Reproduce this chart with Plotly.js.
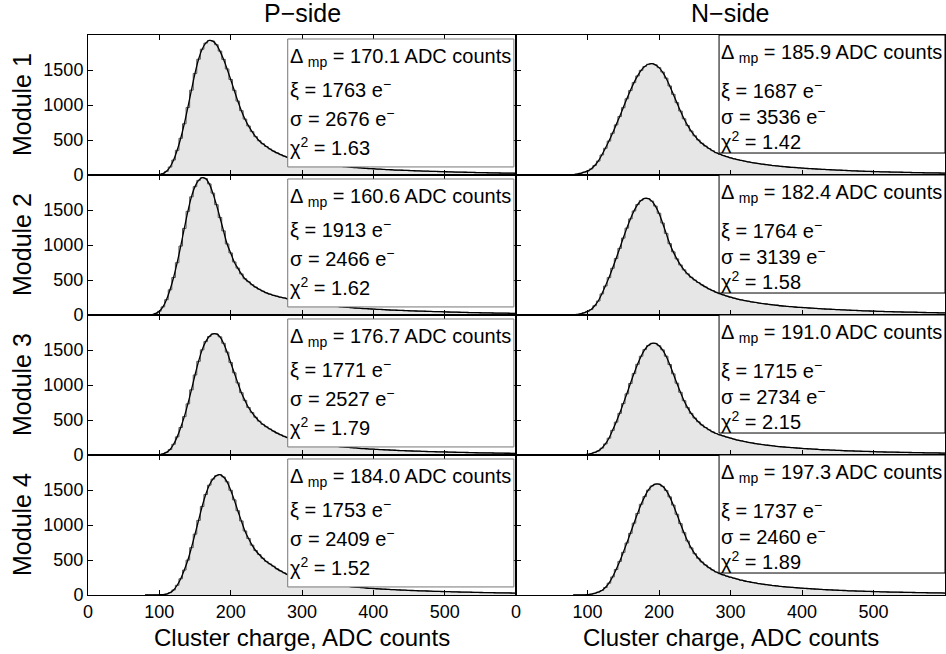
<!DOCTYPE html>
<html>
<head>
<meta charset="utf-8">
<script src="https://cdn.plot.ly/plotly-3.0.1.min.js"></script>
<style>html,body{margin:0;padding:0;background:#fff;}#plot{width:946px;height:654px;}</style>
</head>
<body>
<div id="plot"></div>
<script>
// Bin centres: 80, 85, ..., 600 ADC counts
const binStart = 80, binStep = 5, binEnd = 600;

// P-side cluster-charge histograms (counts per bin), modules 1-4
const pModule1 = [0,0,2,4,6, 21,52,114,214, 353,525,732,965, 1212,1451,1654,1797, 1884,1922,1913,1861, 1770,1652,1515,1365, 1210,1056,919,799, 701,620,548,490, 446,407,372,342, 315,291,270,253, 241,228,214,203, 193,183,176,168, 160,152,147,141, 135,129,124,120, 116,110,106,102, 98,95,91,89, 85,83,79,77, 75,71,69,68, 66,64,62,60, 58,56,55,53, 52,50,48,47, 46,44,42,41, 40,39,38,37, 35,34,33,32, 31,30,29,28, 27,27,26,25];
const pModule2 = [2,4,6,22,53, 116,219,360,536, 747,985,1237,1481, 1688,1834,1923,1962, 1948,1873,1741,1576, 1393,1202,1015,887, 758,670,587,518, 475,433,398,368, 341,317,297,282, 268,254,244,230, 219,207,197,187, 179,171,164,156, 150,144,138,132, 126,122,118,112, 108,104,100,97, 93,91,87,85, 81,79,77,73, 71,69,67,65, 63,61,59,57, 56,54,53,51, 49,48,47,45, 43,42,41,39, 38,37,35,34, 33,32,31,30, 29,28,27,27, 26,25,24,24];
const pModule3 = [0,0,2,3,5, 16,38,78,153, 259,393,548,731, 931,1143,1338,1502, 1620,1693,1731,1730, 1688,1596,1470,1322, 1175,1030,891,780, 679,606,539,484, 438,404,372,341, 313,289,266,247, 233,219,207,197, 186,176,167,160, 153,146,139,134, 129,124,118,113, 108,104,101,96, 92,89,85,84, 80,77,75,73, 70,68,64,63, 61,59,57,56, 54,52,50,49, 47,46,45,44, 42,40,39,38, 37,36,35,33, 32,31,30,29, 29,28,27,26, 25,25,24,23];
const pModule4 = [0,0,0,2,3, 5,14,34,72, 139,232,356,499, 676,869,1066,1264, 1436,1569,1655,1705, 1720,1686,1617,1496, 1359,1204,1058,915, 808,712,636,578, 525,480,444,411, 373,344,316,292, 272,251,236,224, 212,200,189,181, 172,163,157,150, 143,138,132,127, 122,117,112,108, 105,100,96,93, 89,86,83,81, 77,76,72,71, 69,65,64,62, 60,58,57,55, 53,52,50,49, 48,46,45,43, 42,41,40,38, 37,36,35,34, 33,32,31,30, 29,29,28,27];

// N-side cluster-charge histograms (counts per bin), modules 1-4
const nModule1 = [5,13,24,40,56, 87,135,199,286, 382,485,596,716, 835,962,1089,1208, 1320,1415,1495,1550, 1582,1590,1574,1534, 1471,1383,1272,1153, 1034,914,803,708, 628,560,501,453, 413,378,347,318, 297,278,262,246, 232,219,208,197, 188,178,170,162, 154,148,142,135, 129,124,119,114, 110,107,103,99, 95,92,89,86, 83,80,77,75, 72,70,68,65, 63,60,59,56, 54,52,51,49, 48,46,45,44, 42,41,40,39, 37,37,35,34, 33,32,31,30, 29,29,28,27];
const nModule2 = [2,7,17,32,52, 78,132,200,301, 414,534,668,807, 952,1099,1241,1373, 1486,1578,1637,1665, 1663,1627,1556,1453, 1314,1166,1019,902, 802,715,645,588, 539,499,464,431, 401,372,349,324, 304,286,271,254, 240,227,215,205, 197,187,179,170, 164,157,150,144, 139,132,127,122, 119,114,110,107, 104,100,97,94, 90,87,84,82, 79,77,74,72, 69,67,65,63, 60,58,57,55, 53,52,50,48, 47,46,45,43, 42,41,40,39, 37,36,35,34, 33,32,31,30];
const nModule3 = [0,0,2,3,10, 21,38,58,98, 158,240,352,469, 595,734,874,1022, 1163,1296,1411,1506, 1565,1595,1594,1562, 1502,1411,1293,1160, 1026,896,776,677, 594,528,475,430, 392,360,330,307, 288,272,256,242, 227,213,202,192, 181,173,163,155, 149,142,136,130, 123,118,114,110, 106,102,98,94, 91,88,85,82, 78,75,74,70, 69,66,64,61, 59,58,56,54, 53,51,50,48, 46,45,43,42, 42,40,39,38, 37,36,35,34, 33,32,31,30, 30,29,28,27];
const nModule4 = [0,0,0,2,5, 11,24,41,64, 107,169,258,364, 480,609,743,881, 1026,1165,1296,1406, 1498,1557,1585,1584, 1552,1493,1402,1285, 1153,1019,890,771, 673,590,525,472, 428,390,358,328, 305,286,270,254, 240,226,211,200, 191,180,172,162, 154,148,142,135, 129,122,118,113, 110,105,102,97, 94,91,87,84, 81,78,75,73, 70,68,65,64, 60,59,57,56, 54,52,51,49, 48,46,45,43, 42,41,40,39, 38,37,36,35, 34,33,32,31, 30,30,29,28];

// Fit parameters shown in the boxes
const pDeltaMp = ["170.1","160.6","176.7","184.0"];
const pXi      = ["1763","1913","1771","1753"];
const pSigma   = ["2676","2466","2527","2409"];
const pChi2    = ["1.63","1.62","1.79","1.52"];
const nDeltaMp = ["185.9","182.4","191.0","197.3"];
const nXi      = ["1687","1764","1715","1737"];
const nSigma   = ["3536","3139","2734","2460"];
const nChi2    = ["1.42","1.58","2.15","1.89"];

const rowLabels = ["Module 1","Module 2","Module 3","Module 4"];
const colTitles = ["P\u2212side","N\u2212side"];
const xTitle = "Cluster charge, ADC counts";
const xTicks = [0,100,200,300,400,500];
const yTicks = [0,500,1000,1500];

const binX = [];
for (let v = binStart; v <= binEnd; v += binStep) binX.push(v);

const pData = [pModule1,pModule2,pModule3,pModule4];
const nData = [nModule1,nModule2,nModule3,nModule4];

const W = 946, H = 654;
const FONT = "Liberation Sans, Arial, Helvetica, sans-serif";
const colPx = [[88,516],[516,945]];
const rowTopPx = [35,175,315,455];
const rowH = 140;

const traces = [];
const layout = {
  width: W, height: H,
  margin: {l:0,r:0,t:0,b:0},
  paper_bgcolor: "#fff", plot_bgcolor: "rgba(0,0,0,0)",
  showlegend: false,
  font: {family: FONT, color: "#000"},
  annotations: [], shapes: []
};

for (let r = 0; r < 4; r++) {
  for (let c = 0; c < 2; c++) {
    const k = r*2 + c + 1;
    const xs = k === 1 ? "" : String(k);
    const xa = "x" + xs, ya = "y" + xs;
    const vals = c === 0 ? pData[r] : nData[r];
    traces.push({
      x: binX, y: vals, xaxis: xa, yaxis: ya, type: "scatter", mode: "lines",
      line: {shape: "hvh", color: "#555", width: 1},
      fill: "tozeroy", fillcolor: "#e6e6e6", hoverinfo: "skip"
    });
    traces.push({
      x: binX, y: vals, xaxis: xa, yaxis: ya, type: "scatter", mode: "lines",
      line: {shape: "spline", smoothing: 1, color: "#000", width: 1.3}, hoverinfo: "skip"
    });
    const top = rowTopPx[r], bot = top + rowH;
    layout["xaxis" + xs] = {
      domain: [colPx[c][0]/W, colPx[c][1]/W], range: [0,600], anchor: ya,
      showline: true, linecolor: "#000", linewidth: 1, mirror: "ticks",
      ticks: "inside", ticklen: 5, tickcolor: "#000", tickvals: xTicks,
      showticklabels: r === 3, tickfont: {size: 18, family: FONT},
      showgrid: false, zeroline: false, fixedrange: true
    };
    layout["yaxis" + xs] = {
      domain: [1 - bot/H, 1 - top/H], range: [0,2000], anchor: xa,
      showline: true, linecolor: "#000", linewidth: 1, mirror: "ticks",
      ticks: "inside", ticklen: 5, tickcolor: "#000", tickvals: yTicks,
      showticklabels: c === 0, tickfont: {size: 18, family: FONT},
      showgrid: false, zeroline: false, fixedrange: true
    };
    // parameter box
    const isP = c === 0;
    layout.shapes.push({
      type: "rect", xref: xa, yref: ya, layer: "above",
      x0: isP ? 280 : 284, x1: isP ? 597 : 600,
      y0: isP ? 115 : 314, y1: isP ? 1943 : 2000,
      line: {color: isP ? "#777" : "#000", width: 1}, fillcolor: "#fff"
    });
    const tx = isP ? 280.5 : 284.5;
    const lines = isP ? [
      ["\u0394 <sub>mp</sub> = " + pDeltaMp[r] + " ADC counts", 1675],
      ["\u03BE = " + pXi[r] + " e<sup>\u2212</sup>", 1240],
      ["\u03C3 = " + pSigma[r] + " e<sup>\u2212</sup>", 820],
      ["\u03C7<sup>2</sup> = " + pChi2[r], 410]
    ] : [
      ["\u0394 <sub>mp</sub> = " + nDeltaMp[r] + " ADC counts", 1730],
      ["\u03BE = " + nXi[r] + " e<sup>\u2212</sup>", 1228],
      ["\u03C3 = " + nSigma[r] + " e<sup>\u2212</sup>", 845],
      ["\u03C7<sup>2</sup> = " + nChi2[r], 490]
    ];
    lines.forEach(function(l){
      layout.annotations.push({
        xref: xa, yref: ya, x: tx, y: l[1], text: l[0], showarrow: false,
        xanchor: "left", yanchor: "middle", font: {size: 20, family: FONT, color: "#000"}
      });
    });
  }
  layout.annotations.push({
    xref: "paper", yref: "paper", x: 22/W, y: 1 - (rowTopPx[r] + rowH/2)/H,
    text: rowLabels[r], textangle: -90, showarrow: false,
    xanchor: "center", yanchor: "middle", font: {size: 25, family: FONT, color: "#000"}
  });
}
for (let c = 0; c < 2; c++) {
  const cx = (colPx[c][0] + colPx[c][1]) / 2 / W;
  layout.annotations.push({
    xref: "paper", yref: "paper", x: cx, y: 1 - 13/H, text: colTitles[c],
    showarrow: false, xanchor: "center", yanchor: "middle",
    font: {size: 25, family: FONT, color: "#000"}
  });
  layout.annotations.push({
    xref: "paper", yref: "paper", x: cx, y: 1 - 637/H, text: xTitle,
    showarrow: false, xanchor: "center", yanchor: "middle",
    font: {size: 24, family: FONT, color: "#000"}
  });
}

Plotly.newPlot("plot", traces, layout, {staticPlot: true, displayModeBar: false});
</script>
</body>
</html>
